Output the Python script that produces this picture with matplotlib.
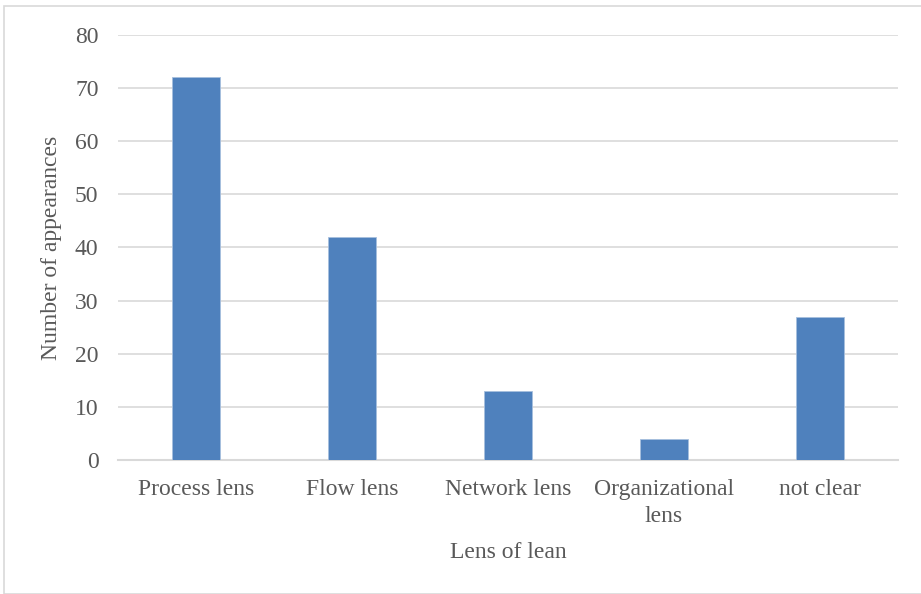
import matplotlib.pyplot as plt
from matplotlib.patches import Rectangle

# data
categories = ['Process lens', 'Flow lens', 'Network lens', 'Organizational\nlens', 'not clear']
appearances = [72, 42, 13, 4, 27]
y_ticks = [0, 10, 20, 30, 40, 50, 60, 70, 80]

plt.rcParams['font.family'] = ['Liberation Serif', 'DejaVu Serif']
text_col = '#595959'
grid_col = '#D9D9D9'

fig = plt.figure(figsize=(9.21, 5.94), dpi=100)
ax = fig.add_axes([0.1281, 0.2256, 0.8469, 0.7155])

x = list(range(len(categories)))
ax.bar(x, appearances, width=0.31, color='#4F81BD', edgecolor='#A7BFDE', linewidth=0.6, zorder=3)

ax.set_xlim(-0.5, len(categories) - 0.5)
ax.set_ylim(0, 80)
ax.set_yticks(y_ticks)
ax.set_xticks(x)
ax.set_xticklabels(categories, linespacing=1.35)

ax.yaxis.grid(True, color=grid_col, linewidth=1.2, zorder=0)
for s in ['top', 'right', 'left']:
    ax.spines[s].set_visible(False)
ax.spines['bottom'].set_color(grid_col)
ax.spines['bottom'].set_linewidth(1.5)
ax.tick_params(axis='both', length=0, labelsize=17, labelcolor=text_col)
ax.tick_params(axis='x', pad=14)
ax.tick_params(axis='y', pad=14)

ax.set_xlabel('Lens of lean', fontsize=17, color=text_col, labelpad=11)
ax.set_ylabel('Number of appearances', fontsize=17, color=text_col, labelpad=9)

# light frame around the chart area
fig.patches.append(Rectangle((4 / 921, 0.0), 1.0, 1 - 6 / 594, transform=fig.transFigure,
                             fill=False, edgecolor='#D9D9D9', linewidth=1.2))

fig.savefig('out.png', dpi=100)
